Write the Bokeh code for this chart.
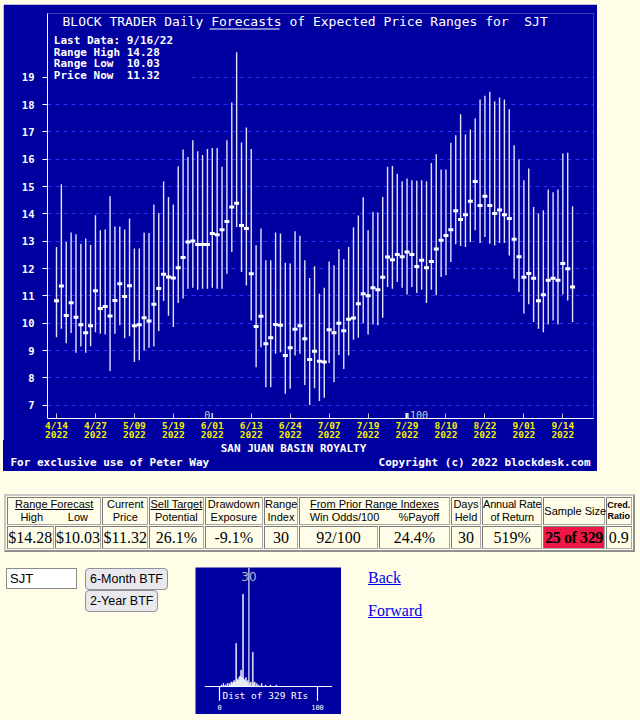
from bokeh.plotting import figure
from bokeh.models import Range1d, FixedTicker, Label, Div, GlobalInlineStyleSheet
from bokeh.layouts import column, row
from bokeh.embed import file_html
from bokeh.resources import INLINE

# ---------------- data ----------------
symbol = "SJT"
company = "SAN JUAN BASIN ROYALTY"
last_date = "9/16/22"

highs = [12.79, 15.08, 12.97, 13.32, 13.25, 12.91, 13.10, 12.86, 13.95, 13.40,
         13.43, 14.64, 13.54, 13.54, 13.43, 13.83, 12.73, 12.73, 13.32, 13.30,
         14.34, 14.03, 15.18, 14.62, 14.34, 15.74, 16.35, 16.08, 16.69, 16.29,
         16.15, 16.37, 16.41, 16.41, 15.72, 16.69, 18.07, 19.91, 16.61, 17.16,
         16.37, 12.85, 13.46, 12.30, 12.30, 13.32, 13.28, 12.21, 12.18, 13.36,
         13.20, 12.30, 11.65, 12.08, 11.08, 11.30, 12.26, 12.12, 12.71, 12.34,
         12.79, 13.51, 13.94, 14.61, 13.40, 14.07, 14.05, 14.62, 15.72, 15.75,
         15.47, 15.19, 15.29, 15.23, 15.21, 15.23, 15.19, 15.86, 16.18, 15.62,
         15.62, 16.60, 16.88, 17.64, 16.90, 17.09, 17.49, 18.18, 18.32, 18.47,
         18.12, 18.26, 18.18, 17.83, 16.51, 16.00, 15.23, 15.66, 14.25, 14.01,
         14.13, 14.89, 14.79, 14.89, 16.21, 16.24, 14.28]
lows = [9.49, 9.80, 9.27, 9.64, 8.92, 9.15, 8.92, 9.16, 9.67, 9.61,
        9.59, 8.25, 9.61, 9.92, 9.45, 9.52, 8.58, 8.64, 9.00, 9.10,
        9.15, 9.71, 10.81, 10.27, 9.86, 10.74, 10.90, 11.26, 11.30, 11.22,
        11.26, 11.26, 11.30, 11.26, 11.26, 11.81, 12.60, 13.52, 11.87, 11.38,
        10.10, 8.39, 9.12, 7.66, 7.66, 8.88, 8.94, 7.42, 7.60, 8.82,
        8.88, 7.74, 7.01, 7.62, 7.15, 7.27, 8.54, 7.84, 8.84, 8.32,
        8.82, 9.39, 9.47, 10.00, 9.59, 9.95, 9.92, 10.20, 11.32, 11.26,
        11.51, 11.30, 11.05, 11.32, 11.10, 11.22, 10.74, 11.22, 11.02, 11.69,
        11.75, 12.24, 12.89, 12.82, 12.79, 12.97, 13.40, 12.93, 13.15, 12.91,
        12.84, 12.93, 12.93, 12.48, 11.63, 11.14, 10.35, 10.69, 10.04, 9.80,
        9.67, 9.95, 10.10, 9.95, 11.05, 10.83, 10.03]
prices = [10.82, 11.36, 10.28, 10.75, 10.22, 9.94, 9.65, 9.91, 11.19, 10.54,
          10.61, 10.26, 10.83, 11.44, 10.98, 11.37, 9.91, 9.94, 10.20, 10.08,
          10.69, 11.27, 11.79, 11.69, 11.65, 12.03, 12.40, 12.97, 13.01, 12.88,
          12.88, 12.88, 13.28, 13.24, 13.42, 13.72, 14.25, 14.39, 13.57, 13.46,
          11.81, 9.88, 10.25, 9.25, 9.47, 9.95, 9.92, 8.82, 9.10, 9.78,
          9.91, 9.43, 8.67, 8.97, 8.61, 8.58, 9.76, 9.65, 10.00, 9.72,
          10.14, 10.19, 10.71, 11.08, 11.00, 11.30, 11.22, 11.68, 12.42, 12.32,
          12.51, 12.43, 12.60, 12.51, 12.07, 12.30, 12.03, 12.26, 12.71, 13.03,
          13.21, 13.42, 14.11, 13.79, 13.97, 14.46, 15.18, 14.31, 14.64, 14.31,
          14.01, 14.14, 13.97, 13.83, 13.07, 12.43, 11.68, 11.82, 11.64, 10.82,
          11.04, 11.57, 11.64, 11.57, 12.18, 11.99, 11.32]

tick_idx = [0, 8, 16, 24, 32, 40, 48, 56, 64, 72, 80, 88, 96, 104]
tick_dates = ["4/14", "4/27", "5/09", "5/19", "6/01", "6/13", "6/24",
              "7/07", "7/19", "7/29", "8/10", "8/22", "9/01", "9/14"]
tick_year = "2022"
price_ticks = [7, 8, 9, 10, 11, 12, 13, 14, 15, 16, 17, 18, 19]

ri_idx = [32, 72]
ri_text = ["0", "100"]

table_values = ["$14.28", "$10.03", "$11.32", "26.1%", "-9.1%", "30",
                "92/100", "24.4%", "30", "519%", "25 of 329", "0.9"]

hist_ri = [2, 4, 6, 8, 10, 11, 12, 13, 14, 15, 16, 17, 18, 19, 20, 21, 22,
           23, 24, 25, 26, 27, 28, 29, 31, 32, 34, 35, 36, 38, 40, 43, 47, 52, 58]
hist_cnt = [1, 2, 1, 2, 2, 1, 3, 2, 3, 4, 3, 29, 5, 4, 6, 7, 11,
            6, 62, 5, 4, 6, 3, 4, 2, 3, 23, 2, 3, 2, 1, 2, 1, 1, 1]
hist_marker = 30
hist_total = 329

# ---------------- style ----------------
BLUE = "#0000a0"
PAGE = "#fffde8"
GRID = "#2e2eff"
MONO = "DejaVu Sans Mono"
NB = "\u00a0"

BOTTOM_BORDER = 28
W, H = 594, 418 - 4 + BOTTOM_BORDER     # figure spans page y 4..446
X0, X1 = -1.85, 110.3
Y0, Y1 = 6.513, 21.33
FL, FR, FT, FB = 47, 593, 13, 418   # page pixel frame edges


def dx(px):
    return X0 + (px - FL) * (X1 - X0) / (FR - FL)


def dy(py):
    return Y1 - (py - FT) * (Y1 - Y0) / (FB - FT)


p = figure(width=W, height=H, x_range=Range1d(X0, X1), y_range=Range1d(Y0, Y1),
           output_backend="svg", toolbar_location=None,
           background_fill_color=BLUE, border_fill_color=BLUE,
           outline_line_color=None, min_border_left=44, min_border_right=4,
           min_border_top=9, min_border_bottom=BOTTOM_BORDER, margin=(4, 0, 0, 3))

p.xgrid.visible = False
p.ygrid.ticker = FixedTicker(ticks=price_ticks)
p.ygrid.grid_line_color = GRID
p.ygrid.grid_line_dash = "4 4"
p.ygrid.grid_line_width = 1

p.yaxis.ticker = FixedTicker(ticks=price_ticks)
p.yaxis.axis_line_color = "white"
p.yaxis.major_tick_line_color = "white"
p.yaxis.major_tick_out = 5
p.yaxis.major_tick_in = 0
p.yaxis.minor_tick_line_color = None
p.yaxis.major_label_standoff = 8
p.yaxis.major_label_text_color = "white"
p.yaxis.major_label_text_font = MONO
p.yaxis.major_label_text_font_style = "bold"
p.yaxis.major_label_text_font_size = "10.5px"

p.xaxis.ticker = FixedTicker(ticks=tick_idx)
p.xaxis.major_label_overrides = {i: f"{d}\n{tick_year}" for i, d in zip(tick_idx, tick_dates)}
p.xaxis.axis_line_color = "white"
p.xaxis.major_tick_line_color = "#c8c8d8"
p.xaxis.major_tick_in = 5
p.xaxis.major_tick_out = 0
p.xaxis.minor_tick_line_color = None
p.xaxis.major_label_standoff = 1
p.xaxis.major_label_text_color = "#f0f000"
p.xaxis.major_label_text_font = MONO
p.xaxis.major_label_text_font_style = "bold"
p.xaxis.major_label_text_font_size = "9.5px"
p.xaxis.major_label_text_line_height = 0.85

idx = list(range(len(prices)))
p.segment(x0=idx, y0=lows, x1=idx, y1=highs, line_color="#e2e2ff", line_width=1.4)
p.rect(x=idx, y=prices, width=5, height=3, width_units="screen", height_units="screen",
       fill_color="white", line_color=None)

# blue box behind info text (hides grid line)
p.quad(left=[X0], right=[dx(188)], bottom=[dy(86)], top=[dy(30)],
       fill_color=BLUE, line_color=None)

# title
p.add_layout(Label(x=dx(62), y=dy(20.5),
                   text=f"BLOCK TRADER Daily Forecasts of Expected Price Ranges for {NB}{symbol}",
                   text_font=MONO, text_font_size="13px", text_color="white",
                   text_baseline="middle", text_align="left"))
p.segment(x0=[dx(209)], y0=[dy(28.5)], x1=[dx(279)], y1=[dy(28.5)],
          line_color="white", line_width=1)

info = [f"Last Data: {last_date}", f"Range High {highs[-1]:.2f}",
        f"Range Low {NB}{lows[-1]:.2f}", f"Price Now {NB}{prices[-1]:.2f}"]
for k, t in enumerate(info):
    p.add_layout(Label(x=dx(53.3), y=dy(40 + k * 11.7), text=t, text_font=MONO,
                       text_font_size="11px", text_font_style="bold",
                       text_color="white", text_baseline="middle"))

# range index markers on the time axis
p.segment(x0=ri_idx, y0=[Y0] * len(ri_idx), x1=ri_idx, y1=[dy(412.5)] * len(ri_idx),
          line_color="white", line_width=[1.5, 3])
p.add_layout(Label(x=ri_idx[0], y=dy(414), x_offset=-2, text=ri_text[0], text_font=MONO,
                   text_font_size="10px", text_color="#d0d0d0",
                   text_align="right", text_baseline="middle"))
p.add_layout(Label(x=ri_idx[1], y=dy(414), x_offset=3, text=ri_text[1], text_font=MONO,
                   text_font_size="10px", text_color="#d0d0d0",
                   text_align="left", text_baseline="middle"))

# footer of the chart panel (page y 440..471, overlapping the empty figure bottom)
foot_font = f"font-family:'{MONO}',monospace;font-weight:bold;font-size:11px;line-height:11px;color:white;white-space:pre;"
footer_html = (
    f"<div style=\"position:relative;width:594px;height:31px;background:{BLUE};{foot_font}\">"
    f"<span style='position:absolute;left:0;width:581px;text-align:center;top:2.5px;'>{company}</span>"
    "<span style='position:absolute;left:7.5px;top:17px;'>For exclusive use of Peter Way</span>"
    "<span style='position:absolute;right:6.5px;top:17px;'>Copyright (c) 2022 blockdesk.com</span>"
    "</div>"
)
footer_div = Div(text=footer_html, width=594, height=31, margin=(440 - (4 + H), 0, 0, 3))

# ---------------- table ----------------
col_w = [48, 48, 47, 56, 60, 35, 81, 73, 31, 62, 63, 27]
avail = 631 - 4 - 13
col_px = [w * avail / sum(col_w) for w in col_w]
cell = ("border:1px solid #a8a8a8;border-top-color:#7a7a7a;border-left-color:#7a7a7a;"
        "padding:0;text-align:center;vertical-align:middle;white-space:nowrap;overflow:visible;")
hs = cell + "font-family:'Liberation Sans',Arial,sans-serif;font-size:11px;line-height:13px;color:#000;"
ds = cell + "font-family:'Liberation Serif','Times New Roman',serif;font-size:16px;line-height:18px;color:#000;"
pair = "display:flex;justify-content:space-around;"
headers = [
    f"<td colspan='2' style=\"{hs}\"><u>Range Forecast</u><div style='{pair}'><span>High</span><span>Low</span></div></td>",
    f"<td style=\"{hs}\">Current<br>Price</td>",
    f"<td style=\"{hs}\"><u>Sell Target</u><br>Potential</td>",
    f"<td style=\"{hs}\">Drawdown<br>Exposure</td>",
    f"<td style=\"{hs}\">Range<br>Index</td>",
    f"<td colspan='2' style=\"{hs}\"><u>From Prior Range Indexes</u><div style='{pair}'><span>Win Odds/100</span><span>%Payoff</span></div></td>",
    f"<td style=\"{hs}\">Days<br>Held</td>",
    f"<td style=\"{hs}letter-spacing:-0.2px;\">Annual Rate<br>of Return</td>",
    f"<td style=\"{hs}\">Sample Size</td>",
    f"<td style=\"{hs}font-size:9px;line-height:11px;font-weight:bold;\">Cred.<br>Ratio</td>",
]
data_cells = []
for k, v in enumerate(table_values):
    extra = "background:#ee1846;font-weight:bold;letter-spacing:-0.4px;" if k == 10 else ""
    data_cells.append(f"<td style=\"{ds}{extra}\">{v}</td>")
cols = "".join(f"<col style='width:{w:.2f}px'>" for w in col_px)
table_html = (
    f"<table style=\"box-sizing:border-box;border-collapse:separate;border-spacing:1px;table-layout:fixed;"
    f"width:631px;border:2px solid #909090;border-top-color:#c8c8c8;border-left-color:#c8c8c8;background:{PAGE};\">"
    f"<colgroup>{cols}</colgroup>"
    f"<tr style='height:27px'>{''.join(headers)}</tr>"
    f"<tr style='height:23px'>{''.join(data_cells)}</tr></table>"
)
table_div = Div(text=table_html, width=632, height=55, margin=(23, 0, 0, 4))

# ---------------- bottom controls ----------------
btn = ("position:absolute;left:79px;height:22px;padding:0 4px;border:1px solid #8f8f9d;"
       "border-radius:4px;background:#e9e9ed;font-family:'Liberation Sans',Arial,sans-serif;"
       "font-size:12.5px;color:#000;white-space:nowrap;")
controls_html = (
    "<div style='position:relative;width:170px;height:50px;'>"
    "<input value='" + symbol + "' style=\"position:absolute;left:0;top:0;box-sizing:border-box;"
    "width:71px;height:21px;border:1px solid #8a8a8a;padding:1px 3px;"
    "font-family:'Liberation Sans',Arial,sans-serif;font-size:13px;background:#fff;\">"
    f"<button style=\"{btn}top:0;\">6-Month BTF</button>"
    f"<button style=\"{btn}top:22px;\">2-Year BTF</button>"
    "</div>"
)
controls = Div(text=controls_html, width=170, height=50, margin=(1, 0, 0, 6))

lk = "position:absolute;left:0;line-height:18px;color:#0000ee;text-decoration:underline;white-space:nowrap;"
links_html = (
    "<div style=\"position:relative;width:80px;height:60px;font-family:'Liberation Serif','Times New Roman',serif;font-size:16px;\">"
    f"<a href='#' style='{lk}top:2px;'>Back</a>"
    f"<a href='#' style='{lk}top:35px;'>Forward</a></div>"
)
links = Div(text=links_html, width=80, height=60, margin=(0, 0, 0, 27))

# ---------------- distribution thumbnail ----------------
hf = figure(width=146, height=147, x_range=Range1d(-24.5, 124.5), y_range=Range1d(-18.8, 80),
            output_backend="svg", toolbar_location=None, x_axis_type=None, y_axis_type=None,
            background_fill_color=BLUE, border_fill_color=BLUE, outline_line_color=None,
            min_border=0, margin=(0, 0, 0, 19))
hf.grid.visible = False
hf.vbar(x=hist_ri, top=hist_cnt, width=0.9, fill_color="white", line_color="white", line_width=0.5)
hf.segment(x0=[hist_marker], y0=[0], x1=[hist_marker], y1=[80], line_color="#e8e8ff", line_width=1.2)
hf.segment(x0=[-15], y0=[0], x1=[115], y1=[0], line_color="white", line_width=1)
hf.segment(x0=[0, 100], y0=[0, 0], x1=[0, 100], y1=[-9.5, -9.5], line_color="white", line_width=1.2)
hf.add_layout(Label(x=hist_marker, y=74, text=str(hist_marker), text_font="DejaVu Sans",
                    text_font_size="12px", text_color="#b8b8c8", text_align="center",
                    text_baseline="middle"))
hf.add_layout(Label(x=3, y=-6, text=f"Dist of {hist_total} RIs", text_font=MONO,
                    text_font_size="9.5px", text_color="white", text_baseline="middle"))
hf.add_layout(Label(x=0, y=-14, text="0", text_font=MONO, text_font_size="7px",
                    text_color="white", text_align="center", text_baseline="middle"))
hf.add_layout(Label(x=100, y=-14, text="100", text_font=MONO, text_font_size="7px",
                    text_color="white", text_align="center", text_baseline="middle"))

bottom = row(controls, hf, links, margin=(18, 0, 0, 0))

page = column(p, footer_div, table_div, bottom,
              stylesheets=[GlobalInlineStyleSheet(css=f"html,body{{margin:0;padding:0;background:{PAGE};}}")])

open("out.html", "w").write(file_html(page, INLINE))
